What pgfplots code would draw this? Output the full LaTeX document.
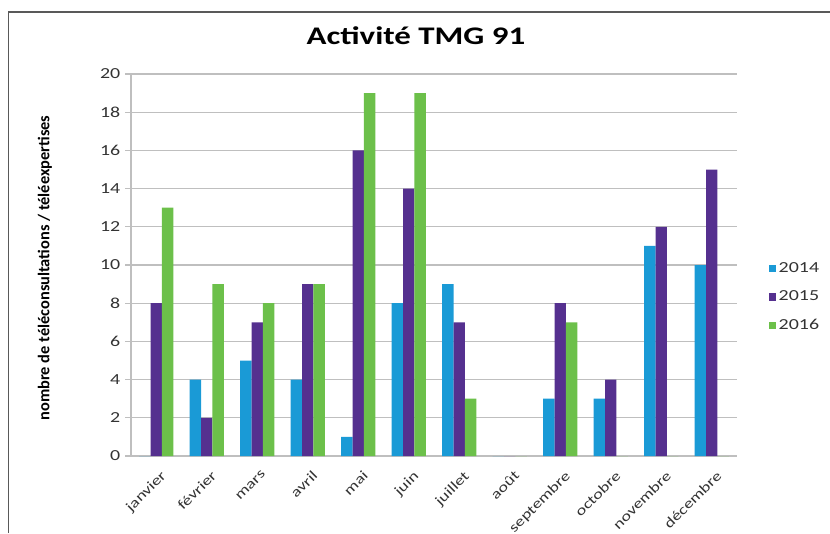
\documentclass[border=0pt]{standalone}
\usepackage{pgfplots}
\pgfplotsset{compat=1.18}
\usepackage{fontspec}
\setmainfont{Carlito}[FakeStretch=1.3]
\newfontfamily\ylabfont{Carlito}
\definecolor{c14}{HTML}{1A9AD6}
\definecolor{c15}{HTML}{55308F}
\definecolor{c16}{HTML}{6CC04A}
\definecolor{gridc}{HTML}{BFBFBF}
\definecolor{framec}{HTML}{595959}
\begin{document}
\begin{tikzpicture}[x=0.75pt,y=0.75pt]
\useasboundingbox (0,0) rectangle (830,533);
\draw[framec, line width=0.9pt] (8.5,0) -- (8.5,521) -- (830,521);
\node[font=\bfseries\fontsize{19}{22}\selectfont] at (416,497) {Activité TMG 91};
\node[rotate=90, font=\ylabfont\bfseries\fontsize{12.3}{14}\selectfont] at (45,265) {nombre de téléconsultations / téléexpertises};
\begin{axis}[
  at={(98.25pt,57.75pt)}, anchor=south west,
  scale only axis, width=454.5pt, height=286.5pt,
  ybar=0pt, bar width=8.6pt,
  ymin=0, ymax=20, ytick={0,2,...,20},
  xmin=-0.5, xmax=11.5, xtick={0,...,11},
  xticklabels={janvier,février,mars,avril,mai,juin,juillet,août,septembre,octobre,novembre,décembre},
  x tick label style={rotate=45, anchor=north east, font=\fontsize{10.5}{12}\selectfont, inner sep=1pt, text=black!80, xshift=-1pt, yshift=-5pt},
  y tick label style={font=\fontsize{11.5}{13}\selectfont, text=black!80},
  /pgf/number format/assume math mode=true,
  ymajorgrids, grid style={gridc, line width=0.8pt},
  axis x line*=bottom, axis y line*=left,
  axis line style={gridc, line width=0.8pt},
  tick align=outside, major tick length=4.5pt,
  ytick style={gridc, line width=0.8pt},
  xtick style={draw=none},
  enlargelimits=false,
  legend style={at={(1.045,0.416)}, anchor=west, draw=none, fill=none, font=\fontsize{11.5}{13}\selectfont, row sep=8.5pt, text=black!80},
  legend cell align=left,
  legend image code/.code={\fill[#1] (0pt,-2.8pt) rectangle (5.6pt,2.8pt);},
]
\addplot[fill=c14, draw=none] coordinates {(0,0) (1,4) (2,5) (3,4) (4,1) (5,8) (6,9) (7,0) (8,3) (9,3) (10,11) (11,10)};
\addplot[fill=c15, draw=none] coordinates {(0,8) (1,2) (2,7) (3,9) (4,16) (5,14) (6,7) (7,0) (8,8) (9,4) (10,12) (11,15)};
\addplot[fill=c16, draw=none] coordinates {(0,13) (1,9) (2,8) (3,9) (4,19) (5,19) (6,3) (7,0) (8,7) (9,0) (10,0) (11,0)};
\legend{2014,2015,2016}
\end{axis}
\end{tikzpicture}
\end{document}
